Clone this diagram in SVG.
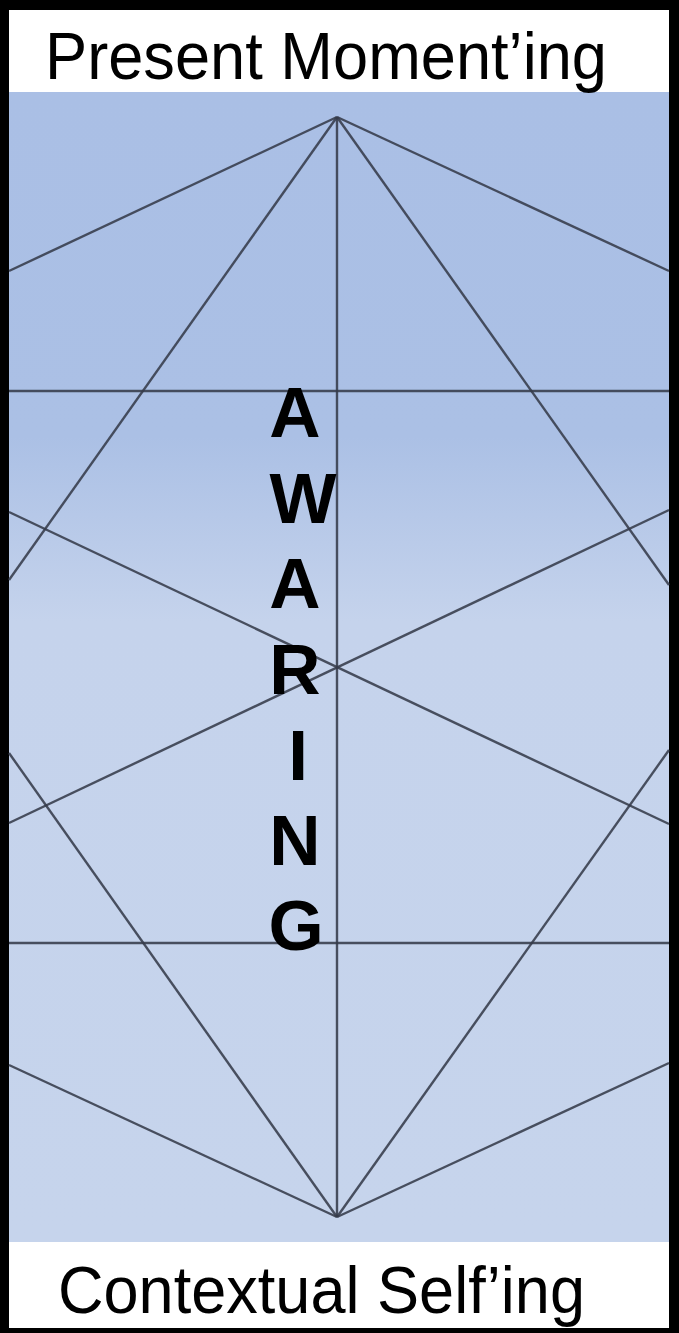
<svg xmlns="http://www.w3.org/2000/svg" width="679" height="1333" viewBox="0 0 679 1333">
<style>
.band{font-family:"Liberation Sans",Arial,sans-serif;font-size:66px;fill:#000}
.aw{font-family:"Liberation Sans",Arial,sans-serif;font-size:71px;font-weight:bold;fill:#000;text-anchor:middle}
.ln{stroke:#363b4a;stroke-width:2.4;stroke-opacity:0.88;fill:none}
</style>
<defs>
<linearGradient id="bg" x1="0" y1="0" x2="0" y2="1">
<stop offset="0" stop-color="#AABFE5"/>
<stop offset="0.3" stop-color="#ABC0E5"/>
<stop offset="0.46" stop-color="#C5D3EC"/>
<stop offset="1" stop-color="#C6D4EC"/>
</linearGradient>
</defs>
<rect x="0" y="0" width="679" height="1333" fill="#000"/>
<rect x="9" y="10" width="660" height="1318" fill="#fff"/>
<g id="field">
<rect x="9" y="92" width="660" height="1150" fill="url(#bg)"/>
</g>
<g id="connectors">
<line class="ln" x1="337" y1="117" x2="337" y2="1217"/>
<line class="ln" x1="9" y1="391" x2="669" y2="391"/>
<line class="ln" x1="9" y1="943" x2="669" y2="943"/>
<line class="ln" x1="337" y1="117" x2="9" y2="271"/>
<line class="ln" x1="337" y1="117" x2="669" y2="271"/>
<line class="ln" x1="337" y1="117" x2="9" y2="580"/>
<line class="ln" x1="337" y1="117" x2="669" y2="585"/>
<line class="ln" x1="9" y1="512" x2="669" y2="824"/>
<line class="ln" x1="9" y1="823" x2="669" y2="510"/>
<line class="ln" x1="337" y1="1217" x2="9" y2="753"/>
<line class="ln" x1="337" y1="1217" x2="669" y2="750"/>
<line class="ln" x1="337" y1="1217" x2="9" y2="1065"/>
<line class="ln" x1="337" y1="1217" x2="669" y2="1063"/>
</g>
<g id="top-label">
<text class="band" x="45" y="79" textLength="562" lengthAdjust="spacingAndGlyphs">Present Moment’ing</text>
</g>
<g id="bottom-label">
<text class="band" x="58" y="1313" textLength="527" lengthAdjust="spacingAndGlyphs">Contextual Self’ing</text>
</g>
<g id="awaring">
<text class="aw" x="295" y="437">A</text>
<text class="aw" x="303" y="523">W</text>
<text class="aw" x="295" y="608">A</text>
<text class="aw" x="295" y="694">R</text>
<text class="aw" x="298" y="780">I</text>
<text class="aw" x="295" y="865">N</text>
<text class="aw" x="296" y="950">G</text>
</g>
</svg>
